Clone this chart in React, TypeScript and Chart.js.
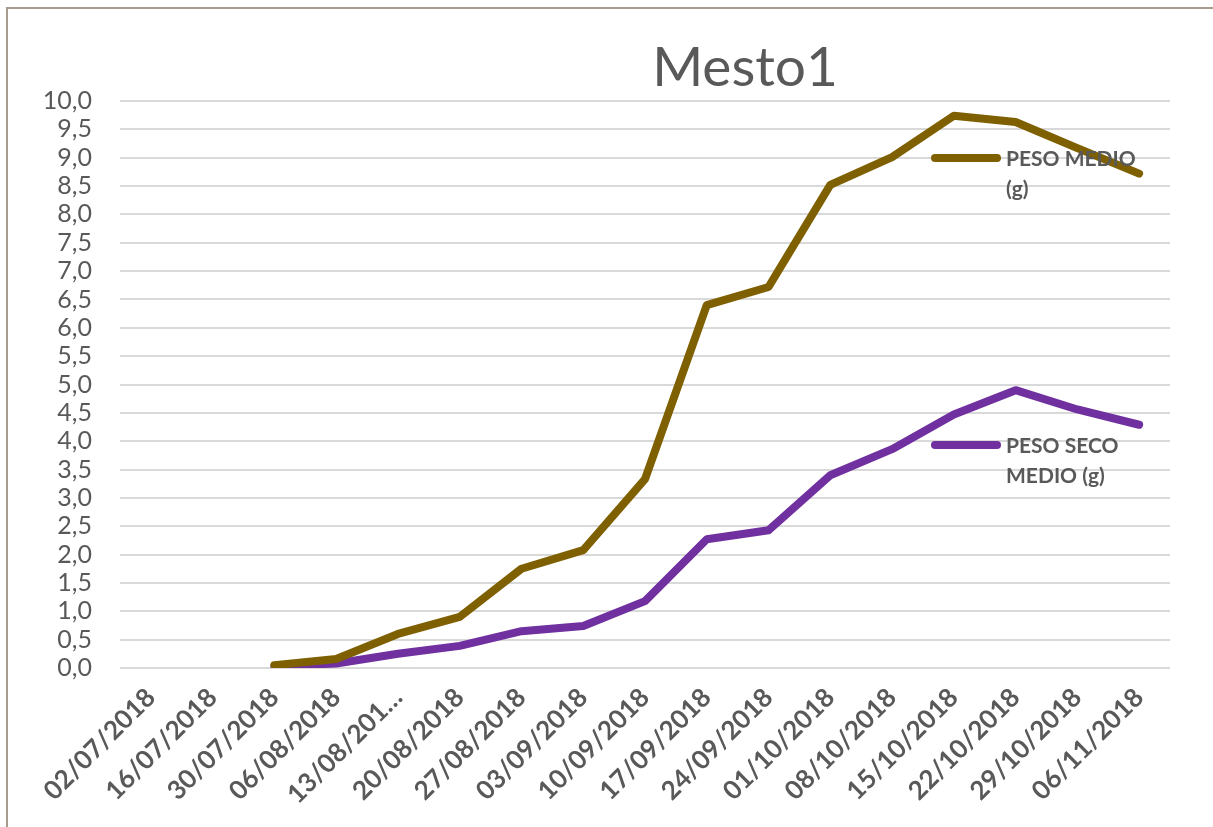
import React, { useEffect, useRef } from "react";
import { Chart, registerables } from "chart.js";

Chart.register(...registerables);

const categories = [
  "02/07/2018", "16/07/2018", "30/07/2018", "06/08/2018", "13/08/201…",
  "20/08/2018", "27/08/2018", "03/09/2018", "10/09/2018", "17/09/2018",
  "24/09/2018", "01/10/2018", "08/10/2018", "15/10/2018", "22/10/2018",
  "29/10/2018", "06/11/2018",
];

const pesoMedio = [
  null, null, 0.05, 0.16, 0.6, 0.9, 1.75, 2.08, 3.33, 6.4, 6.72, 8.52, 9.01, 9.74, 9.63, 9.17, 8.72,
];

const pesoSecoMedio = [
  null, null, 0.03, 0.08, 0.25, 0.39, 0.65, 0.74, 1.18, 2.27, 2.43, 3.4, 3.86, 4.47, 4.9, 4.56, 4.29,
];

const seriesNames = ["PESO MEDIO (g)", "PESO SECO MEDIO (g)"];
const legendLines = [["PESO MEDIO", "(g)"], ["PESO SECO", "MEDIO (g)"]];
const titleText = "Mesto1";

const BROWN = "#7F6000";
const PURPLE = "#7030A0";
const TEXT = "#595959";
const FONT = "Lato, 'Open Sans', sans-serif";

const overlayPlugin = {
  id: "overlay",
  afterDatasetsDraw(chart: any) {
    const ctx = chart.ctx;
    ctx.save();
    ctx.fillStyle = TEXT;
    ctx.font = `55px ${FONT}`;
    ctx.textAlign = "center";
    ctx.textBaseline = "middle";
    ctx.fillText(titleText, 745, 68);
    const entries = [
      { color: BROWN, y: 158, lines: legendLines[0] },
      { color: PURPLE, y: 445, lines: legendLines[1] },
    ];
    entries.forEach((e) => {
      ctx.strokeStyle = e.color;
      ctx.lineWidth = 8;
      ctx.lineCap = "round";
      ctx.beginPath();
      ctx.moveTo(935, e.y);
      ctx.lineTo(997, e.y);
      ctx.stroke();
      ctx.fillStyle = TEXT;
      ctx.font = `bold 21px ${FONT}`;
      ctx.textAlign = "left";
      ctx.textBaseline = "middle";
      e.lines.forEach((t, i) => ctx.fillText(t, 1006, e.y + 1 + i * 30));
    });
    ctx.restore();
  },
};

export default function App() {
  const ref = useRef<HTMLCanvasElement | null>(null);
  useEffect(() => {
    if (!ref.current) return;
    const chart = new Chart(ref.current, {
      type: "line",
      data: {
        labels: categories,
        datasets: [
          {
            label: seriesNames[0],
            data: pesoMedio,
            borderColor: BROWN,
            backgroundColor: BROWN,
            borderWidth: 8,
            pointRadius: 0,
            borderCapStyle: "round",
            borderJoinStyle: "round",
            tension: 0,
          },
          {
            label: seriesNames[1],
            data: pesoSecoMedio,
            borderColor: PURPLE,
            backgroundColor: PURPLE,
            borderWidth: 8,
            pointRadius: 0,
            borderCapStyle: "round",
            borderJoinStyle: "round",
            tension: 0,
          },
        ],
      },
      options: {
        animation: false,
        responsive: false,
        maintainAspectRatio: false,
        layout: { padding: { left: 0, right: 43, top: 101, bottom: 0 } },
        plugins: {
          legend: { display: false },
          title: { display: false },
          tooltip: { enabled: false },
        },
        scales: {
          x: {
            offset: true,
            grid: { display: false, drawTicks: false },
            border: { display: false },
            ticks: {
              autoSkip: false,
              maxRotation: 45,
              minRotation: 45,
              padding: 14,
              color: TEXT,
              font: { family: FONT, size: 26, weight: "bold" },
            },
            afterFit: (s: any) => {
              s.height = 159;
            },
          },
          y: {
            min: 0,
            max: 10,
            grid: { color: "#D9D9D9", lineWidth: 2, drawTicks: false },
            border: { display: false },
            ticks: {
              stepSize: 0.5,
              autoSkip: false,
              padding: 28,
              color: TEXT,
              font: { family: FONT, size: 25 },
              callback: (v: any) => Number(v).toFixed(1).replace(".", ","),
            },
            afterFit: (s: any) => {
              s.width = 120;
            },
          },
        },
      },
      plugins: [overlayPlugin],
    });
    return () => chart.destroy();
  }, []);
  return (
    <div style={{ position: "fixed", left: 0, top: 0, width: 1213, height: 827, background: "#fff" }}>
      <canvas ref={ref} width={1213} height={827} style={{ display: "block" }} />
      <div
        style={{
          position: "absolute",
          left: 6,
          top: 7,
          right: 0,
          bottom: 0,
          borderTop: "2px solid #A89A8C",
          borderLeft: "2px solid #A89A8C",
          pointerEvents: "none",
        }}
      />
    </div>
  );
}
